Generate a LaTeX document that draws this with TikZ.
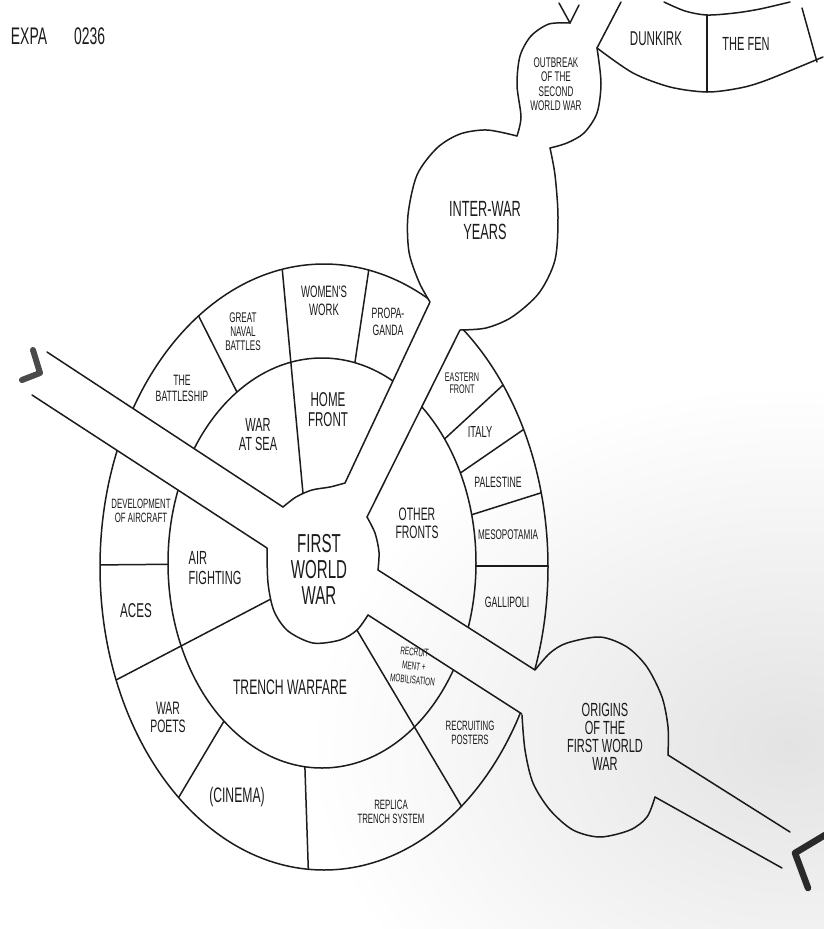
\documentclass[tikz,border=0pt]{standalone}
\usepackage{fontspec}
\usetikzlibrary{fadings}
\newfontfamily\hand[FakeStretch=0.58]{Liberation Sans}
\newcommand\fsz[2]{\fontsize{#1}{#2}\selectfont}
\definecolor{ink}{HTML}{1C1C1C}
\definecolor{arrowA}{HTML}{4A4A4A}
\definecolor{arrowB}{HTML}{2E2E2E}
\tikzfading[name=shadowfade, inner color=transparent!0, outer color=transparent!100]
\begin{document}
\begin{tikzpicture}[x=1pt,y=-1pt,line join=round,line cap=round,
  lbl/.style={font=\hand,align=center,text=ink,inner sep=0pt},
  wall/.style={draw=ink,line width=1.5pt},
  chev/.style={line width=5.5pt,line cap=round,line join=round}]
\fill[white] (0,0) rectangle (823,929);
\useasboundingbox (0,0) rectangle (823,929);

% ---------- outer ring: dividers that stay in the outer ring
\begin{scope}
  \clip (324,567) ellipse [x radius=224pt, y radius=303pt];
  \draw[wall] (187,293) -- (245,408);   % battleship | naval
  \draw[wall] (371,255) -- (352,382);   % women | propaganda
  \draw[wall] (90,565) -- (200,564);    % development | aces
  \draw[wall] (230,711) -- (170,812);   % war poets | cinema
  \draw[wall] (304,740) -- (309,890);   % cinema | replica
  \draw[wall] (425,457) -- (515,374);   % eastern | italy
  \draw[wall] (440,487) -- (533,423);   % italy | palestine
  \draw[wall] (455,520) -- (550,490);   % palestine | mesopotamia
  \draw[wall] (455,566) -- (560,566);   % mesopotamia | gallipoli
\end{scope}
\fill[white] (322,563) ellipse [x radius=154pt, y radius=205pt];
% ---------- dividers running from the hub to the outer ellipse
\begin{scope}
  \clip (324,567) ellipse [x radius=224pt, y radius=303pt];
  \draw[wall] (305,515) -- (280,245);   % war at sea | home front
  \draw[wall] (290,589) -- (95,691);    % air fighting | trench warfare
  \draw[wall] (345,610) -- (475,829);   % trench | recruitment
\end{scope}
\draw[wall] (324,567) ellipse [x radius=224pt, y radius=303pt];
\draw[wall] (322,563) ellipse [x radius=154pt, y radius=205pt];

% ---------- roads
\coordinate (ulA) at (47,352);  \coordinate (ulB) at (283,507);
\coordinate (ulC) at (267,548); \coordinate (ulD) at (32,395);
\coordinate (urA) at (345,483); \coordinate (urB) at (430,302);
\coordinate (urC) at (460,330); \coordinate (urD) at (367,517);
\coordinate (lrA) at (378,570); \coordinate (lrB) at (535,670);
\coordinate (lrC) at (522,714); \coordinate (lrD) at (368,615);
\fill[white] (ulA) -- (ulB) -- (ulC) -- (ulD) -- cycle;
\fill[white] (urA) -- (urB) -- (438,284) -- (468,312) -- (urC) -- (urD) -- cycle;
\fill[white] (lrA) -- (lrB) -- (555,683) -- (542,727) -- (lrC) -- (lrD) -- cycle;
% hub
\fill[white] plot[smooth] coordinates {(283,507) (296,497) (312,490) (330,487) (345,483)}
  -- plot[smooth] coordinates {(367,517) (375,533) (379,552) (378,570)}
  -- plot[smooth] coordinates {(368,615) (357,630) (340,640) (313,643) (288,631) (274,611) (268,583) (267,548)}
  -- cycle;
\draw[wall] plot[smooth] coordinates {(283,507) (296,497) (312,490) (330,487) (345,483)};
\draw[wall] plot[smooth] coordinates {(367,517) (375,533) (379,552) (378,570)};
\draw[wall] plot[smooth] coordinates {(368,615) (357,630) (340,640) (313,643) (288,631) (274,611) (268,583) (267,548)};
\draw[wall] (ulA) -- (ulB);
\draw[wall] (ulD) -- (ulC);
\draw[wall] (urA) -- (urB);
\draw[wall] (urD) -- (urC);
\draw[wall] (lrA) -- (lrB);
\draw[wall] (lrD) -- (lrC);

% ---------- inter-war and outbreak bubbles
\path[fill=white] plot[smooth] coordinates {(430,302) (419,282) (409,252) (408,215) (417,175) (437,148) (460,134) (487,130) (517,136)}
  -- plot[smooth] coordinates {(517,136) (521,117) (517,85) (520,56) (531,36) (549,24) (570,23)}
  -- plot[smooth] coordinates {(597,48) (601,83) (597,113) (584,133) (567,143) (550,148)}
  -- plot[smooth] coordinates {(550,148) (555,175) (558,217) (555,260) (539,293) (512,317) (486,328) (460,330)}
  -- cycle;
\draw[wall] plot[smooth] coordinates {(430,302) (419,282) (409,252) (408,215) (417,175) (437,148) (460,134) (487,130) (517,136)};
\draw[wall] plot[smooth] coordinates {(517,136) (521,117) (517,85) (520,56) (531,36) (549,24) (570,23)};
\draw[wall] plot[smooth] coordinates {(597,48) (601,83) (597,113) (584,133) (567,143) (550,148)};
\draw[wall] plot[smooth] coordinates {(550,148) (555,175) (558,217) (555,260) (539,293) (512,317) (486,328) (460,330)};
\draw[wall] (559,3) -- (570,23) -- (579,5);

% ---------- Dunkirk ring (top right)
\draw[wall] (597,48) -- (621,2);
\draw[wall] plot[smooth] coordinates {(597,48) (633,73) (670,87) (707,92) (740,88) (767,80) (823,57)};
\draw[wall] plot[smooth] coordinates {(664,2) (685,11) (707,15) (735,13) (760,9) (790,2)};
\draw[wall] (707,15) -- (707,92);
\draw[wall] (802,8) -- (817,62);

% ---------- origins bubble
\path[fill=white] plot[smooth] coordinates {(535,670) (550,653) (567,643) (600,637) (627,647) (647,667) (662,697) (668,727) (668,755)}
  -- (790,832) -- (782,868)
  -- plot[smooth] coordinates {(655,797) (647,817) (630,830) (600,837) (573,830) (550,810) (533,783) (525,750) (522,715)}
  -- cycle;
\draw[wall] plot[smooth] coordinates {(535,670) (550,653) (567,643) (600,637) (627,647) (647,667) (662,697) (668,727) (668,755)};
\draw[wall] plot[smooth] coordinates {(655,797) (647,817) (630,830) (600,837) (573,830) (550,810) (533,783) (525,750) (522,715)};
\coordinate (tA) at (668,755); \coordinate (tB) at (790,832);
\coordinate (tC) at (655,797); \coordinate (tD) at (782,868);
\draw[wall] (tA) -- (tB);
\draw[wall] (tC) -- (tD);

% ---------- arrow marks
\draw[chev,draw=arrowA,line width=6pt] (33,350) -- (40,373) -- (22,380);
\draw[chev,draw=arrowB,line width=6.5pt] (825,835) -- (795,853) -- (808,888);

% ---------- labels
\node[lbl,font=\hand\fsz{24}{24}] (ref) at (58,36) {EXPA\hspace{27pt}0236};
\node[lbl,font=\hand\fsz{20}{20}] (dunkirk) at (656,39) {DUNKIRK};
\node[lbl,font=\hand\fsz{19}{19}] (fen) at (746,44) {THE FEN};
\node[lbl,font=\hand\fsz{14}{14.5}] (outbreak) at (556,84) {OUTBREAK\\OF THE\\SECOND\\WORLD WAR};
\node[lbl,font=\hand\fsz{22}{23}] (interwar) at (485,221) {INTER-WAR\\YEARS};
\node[lbl,font=\hand\fsz{16.5}{18}] (women) at (324,301) {WOMEN'S\\WORK};
\node[lbl,font=\hand\fsz{15}{17}] (propa) at (388,322) {PROPA-\\GANDA};
\node[lbl,font=\hand\fsz{14}{14}] (naval) at (243,332) {GREAT\\NAVAL\\BATTLES};
\node[lbl,font=\hand\fsz{15}{16}] (battleship) at (182,388) {THE\\BATTLESHIP};
\node[lbl,font=\hand\fsz{19}{19}] (sea) at (258,435) {WAR\\AT SEA};
\node[lbl,font=\hand\fsz{20}{20}] (home) at (328,410) {HOME\\FRONT};
\node[lbl,font=\hand\fsz{12.5}{12.5}] (eastern) at (462,383) {EASTERN\\FRONT};
\node[lbl,font=\hand\fsz{16}{16}] (italy) at (480,432) {ITALY};
\node[lbl,font=\hand\fsz{15}{15}] (palestine) at (498,482) {PALESTINE};
\node[lbl,font=\hand\fsz{14}{14}] (meso) at (508,535) {MESOPOTAMIA};
\node[lbl,font=\hand\fsz{15}{15}] (galli) at (507,602) {GALLIPOLI};
\node[lbl,font=\hand\fsz{18}{18}] (other) at (417,523) {OTHER\\FRONTS};
\node[lbl,font=\hand\fsz{26}{26}] (fww) at (319,569) {FIRST\\WORLD\\WAR};
\node[lbl,font=\hand\fsz{19}{20},align=left] (air) at (215,568) {AIR\\FIGHTING};
\node[lbl,font=\hand\fsz{13.5}{14}] (dev) at (141,511) {DEVELOPMENT\\OF AIRCRAFT};
\node[lbl,font=\hand\fsz{20}{20}] (aces) at (136,611) {ACES};
\node[lbl,font=\hand\fsz{18}{18}] (poets) at (168,717) {WAR\\POETS};
\node[lbl,font=\hand\fsz{21}{21}] (cinema) at (237,797) {(CINEMA)};
\node[lbl,font=\hand\fsz{13.5}{13.5}] (replica) at (391,812) {REPLICA\\TRENCH SYSTEM};
\node[lbl,font=\hand\fsz{21}{21}] (trench) at (290,687) {TRENCH WARFARE};
\node[lbl,font=\hand\fsz{11}{14},rotate=-6] (recruit) at (414,666) {RECRUIT-\\MENT +\\MOBILISATION};
\node[lbl,font=\hand\fsz{13.5}{13.5}] (posters) at (470,733) {RECRUITING\\POSTERS};
\node[lbl,font=\hand\fsz{19}{18}] (origins) at (605,737) {ORIGINS\\OF THE\\FIRST WORLD\\WAR};

% ---------- faint scan shadow, bottom right
\fill[black,fill opacity=0.11,path fading=shadowfade] (790,745) ellipse [x radius=480pt, y radius=360pt];
\end{tikzpicture}
\end{document}
